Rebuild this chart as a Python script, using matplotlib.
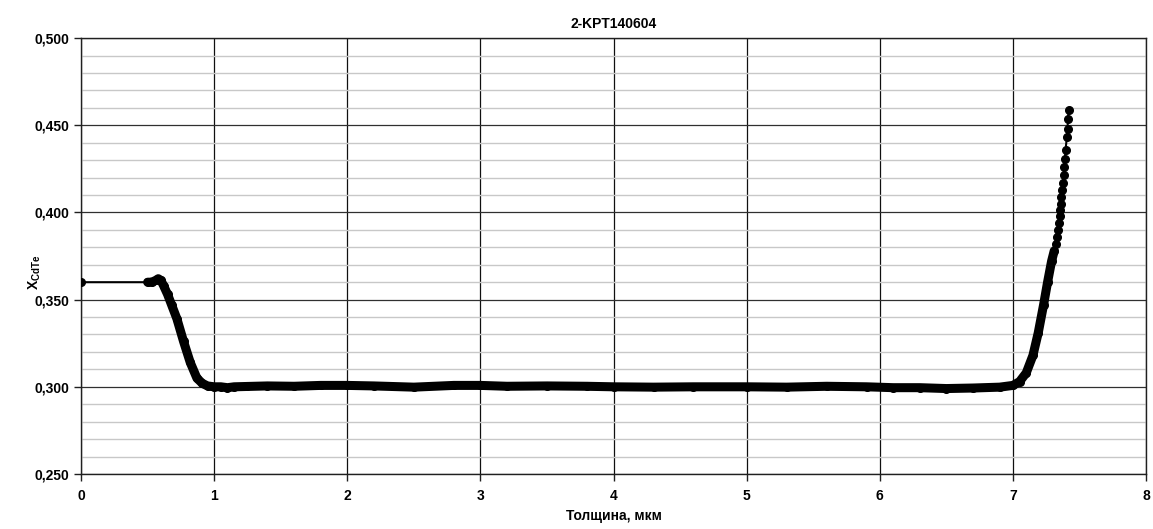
import numpy as np
import matplotlib
matplotlib.use("Agg")
import matplotlib.pyplot as plt
from matplotlib.ticker import MultipleLocator, FuncFormatter

plt.rcParams['font.family'] = ['Liberation Sans', 'DejaVu Sans']
plt.rcParams['mathtext.fontset'] = 'custom'
plt.rcParams['mathtext.rm'] = 'Liberation Sans'
plt.rcParams['mathtext.bf'] = 'Liberation Sans:bold'

# depth profile (um) and composition
depth = [0.0, 0.50, 0.53, 0.56, 0.58, 0.60, 0.62, 0.65, 0.68, 0.72, 0.77, 0.82,
         0.87, 0.91, 0.95, 1.00, 1.05, 1.10, 1.15, 1.25, 1.40, 1.60, 1.80, 2.00,
         2.20, 2.50, 2.80, 3.00, 3.20, 3.50, 3.80, 4.00, 4.30, 4.60, 5.00, 5.30,
         5.60, 5.90, 6.10, 6.30, 6.50, 6.70, 6.90, 7.00, 7.05, 7.10, 7.15, 7.19,
         7.23, 7.26, 7.29, 7.31]
xcdte = [0.360, 0.360, 0.360, 0.361, 0.362, 0.361, 0.358, 0.353, 0.347, 0.339, 0.326, 0.314,
         0.305, 0.302, 0.3005, 0.300, 0.3000, 0.2995, 0.3000, 0.3002, 0.3005, 0.3003, 0.3008, 0.3008,
         0.3005, 0.2998, 0.3008, 0.3008, 0.3003, 0.3005, 0.3003, 0.3000, 0.2998, 0.3000, 0.3000, 0.2998,
         0.3003, 0.3000, 0.2995, 0.2995, 0.2990, 0.2993, 0.2998, 0.3008, 0.303, 0.308, 0.318, 0.331,
         0.347, 0.360, 0.372, 0.378]

# sparse points at the top of the rise
depth_top = [7.322, 7.330, 7.337, 7.345, 7.350, 7.355, 7.360, 7.364, 7.369, 7.375, 7.380,
             7.385, 7.390, 7.395, 7.405, 7.410, 7.413, 7.418]
xcdte_top = [0.382, 0.386, 0.390, 0.394, 0.398, 0.4015, 0.405, 0.409, 0.413, 0.417, 0.4215,
             0.426, 0.4305, 0.436, 0.443, 0.448, 0.4535, 0.459]

title = "2-KPT140604"

all_d = depth + depth_top
all_x = xcdte + xcdte_top

fig = plt.figure(figsize=(11.53, 5.29), dpi=100)
ax = fig.add_axes([0.0703, 0.104, 0.9237, 0.824])

# minor / major grid
ax.yaxis.set_major_locator(MultipleLocator(0.05))
ax.yaxis.set_minor_locator(MultipleLocator(0.01))
ax.xaxis.set_major_locator(MultipleLocator(1))
ax.grid(which='minor', axis='y', color='#c8c8c8', lw=1.0)
ax.grid(which='major', axis='y', color='#303030', lw=0.9)
ax.grid(which='major', axis='x', color='#101010', lw=0.9)
ax.set_axisbelow(True)

# thin connecting line with markers
ax.plot(all_d, all_x, '-o', color='black', lw=1.5, ms=5.5, zorder=3)
# dense part: overlapping markers look like a thick band
ax.plot(depth[1:], xcdte[1:], '-', color='black', lw=6.5,
        solid_capstyle='round', solid_joinstyle='round', zorder=3)

ax.set_xlim(0, 8)
ax.set_ylim(0.25, 0.5)
ax.yaxis.set_major_formatter(FuncFormatter(lambda v, p: ('%.3f' % v).replace('.', ',')))

ax.tick_params(axis='both', which='major', labelsize=10, length=5, width=1, color='#202020')
ax.tick_params(axis='y', which='minor', length=0)
ax.tick_params(axis='x', pad=6)
for lab in ax.get_xticklabels() + ax.get_yticklabels():
    lab.set_fontweight('bold')

for s in ax.spines.values():
    s.set_color('#202020')
    s.set_linewidth(1)

ax.set_title(title, fontsize=10, fontweight='bold', pad=7)
ax.set_xlabel('Толщина, мкм', fontsize=10, fontweight='bold', labelpad=4)
ax.set_ylabel(r'$\mathbf{X_{CdTe}}$', fontsize=10)
ax.yaxis.set_label_coords(-0.036, 0.463)

fig.savefig('out.png', dpi=100)
